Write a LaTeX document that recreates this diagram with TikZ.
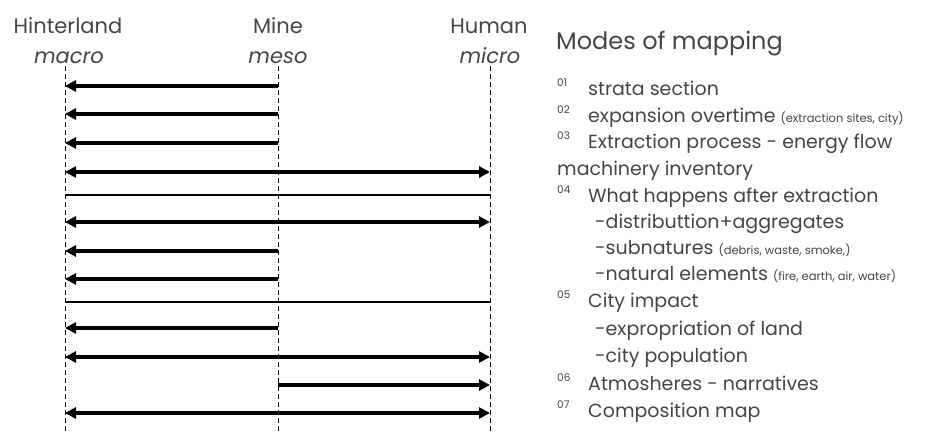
\documentclass[tikz,border=0pt]{standalone}
\usepackage{fontspec}
\setmainfont{Poppins}
\usepackage{tikz}
\usetikzlibrary{arrows.meta}
\definecolor{ink}{rgb}{.27,.27,.27}

\begin{document}
\begin{tikzpicture}[
      x=1pt, y=-1pt,
      every node/.style={inner sep=0pt, text=ink},
      guide/.style={dashed, dash pattern=on 5pt off 3pt, line width=.7pt},
      flow/.style={line width=3.4pt, -{Triangle[length=11pt,width=11pt]}},
      flowboth/.style={line width=3.4pt, {Triangle[length=11pt,width=11pt]}-{Triangle[length=11pt,width=11pt]}},
      plain/.style={line width=1.4pt},
      num/.style={anchor=base west, font=\fontsize{10.5}{10.5}\selectfont},
      item/.style={anchor=base west, font=\fontsize{19}{19}\selectfont}]
        \useasboundingbox (0,0) rectangle (946,434);

        {\fontsize{21}{21}\selectfont
        \node[anchor=base] (hint) at (68,33) {Hinterland};
        \node[anchor=base] (mine) at (278,33) {Mine};
        \node[anchor=base] (human) at (489,33) {Human};
        \node[anchor=base] (macro) at (69,63) {\itshape macro};
        \node[anchor=base] (meso) at (278,63) {\itshape meso};
        \node[anchor=base] (micro) at (490,63) {\itshape micro};
        }

        \coordinate (Lt) at (65,66);  \coordinate (Lb) at (65,432);
        \coordinate (Mt) at (278,66); \coordinate (Mb) at (278,432);
        \coordinate (Rt) at (490,66); \coordinate (Rb) at (490,432);
        \draw[guide] (Lt) -- (Lb);
        \draw[guide] (Mt) -- (Mb);
        \draw[guide] (Rt) -- (Rb);

        % rows
        \foreach \r/\y in {1/86, 2/114, 3/143, 4/172, 5/195, 6/222, 7/251,
                           8/279, 9/302, 10/328, 11/357, 12/385, 13/413} {
          \coordinate (L\r) at (65,\y);
          \coordinate (M\r) at (278,\y);
          \coordinate (R\r) at (490,\y);
        }

        % mine to hinterland
        \foreach \r in {1, 2, 3, 7, 8, 10}
          \draw[flow] (M\r) -- (L\r);
        % hinterland and human
        \foreach \r in {4, 6, 11, 13}
          \draw[flowboth] (L\r) -- (R\r);
        \foreach \r in {5, 9}
          \draw[plain] (L\r) -- (R\r);
        % mine to human
        \draw[flow] (M12) -- (R12);

        \node[anchor=base west, font=\fontsize{24}{24}\selectfont] (modes) at (556,49) {Modes of mapping};

        % list
        \node[num] (n1) at (557,86) {01};
        \node[item] (i1) at (588,95) {strata section};
        \node[num] (n2) at (557,113) {02};
        \node[item] (i2) at (588,122) {expansion overtime {\fontsize{11.5}{11.5}\selectfont (extraction sites, city)}};
        \node[num] (n3) at (557,139) {03};
        \node[item] (i3) at (588,148) {Extraction process - energy flow};
        \node[item] (i4) at (557,175) {machinery inventory};
        \node[num] (n4) at (557,193) {04};
        \node[item] (i5) at (588,202) {What happens after extraction};
        \node[item] (i6) at (595,228) {-distributtion+aggregates};
        \node[item] (i7) at (595,254) {-subnatures {\fontsize{11.5}{11.5}\selectfont (debris, waste, smoke,)}};
        \node[item] (i8) at (595,280) {-natural elements {\fontsize{11.5}{11.5}\selectfont (fire, earth, air, water)}};
        \node[num] (n5) at (557,298) {05};
        \node[item] (i9) at (588,307) {City impact};
        \node[item] (i10) at (595,335) {-expropriation of land};
        \node[item] (i11) at (595,362) {-city population};
        \node[num] (n6) at (557,381) {06};
        \node[item] (i12) at (588,390) {Atmosheres - narratives};
        \node[num] (n7) at (557,408) {07};
        \node[item] (i13) at (588,417) {Composition map};

      \end{tikzpicture}
\end{document}
